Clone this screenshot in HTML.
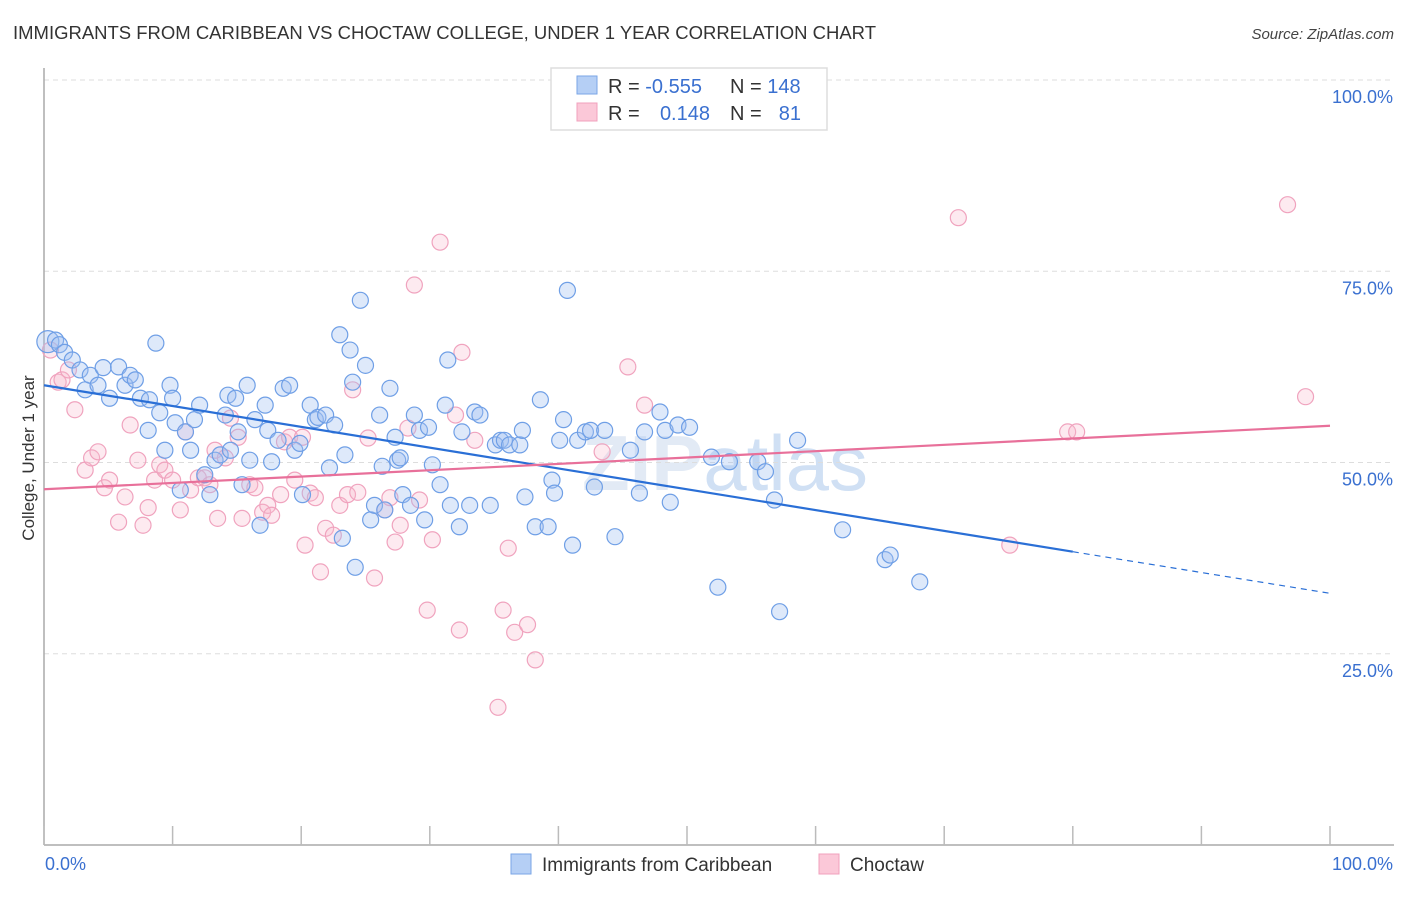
<!DOCTYPE html>
<html><head><meta charset="utf-8"><style>
body{margin:0;background:#fff;font-family:"Liberation Sans",sans-serif;}
svg text{font-family:"Liberation Sans",sans-serif;}
</style></head><body>
<svg id="chart" width="1406" height="892" xmlns="http://www.w3.org/2000/svg">
<text x="13" y="39" font-size="18" textLength="863" lengthAdjust="spacingAndGlyphs" fill="#333">IMMIGRANTS FROM CARIBBEAN VS CHOCTAW COLLEGE, UNDER 1 YEAR CORRELATION CHART</text>
<text x="1394" y="39" font-size="15" fill="#444" font-style="italic" text-anchor="end">Source: ZipAtlas.com</text>
<text x="725" y="490" font-size="78" fill="#e2eaf5" text-anchor="middle" font-weight="bold">ZIP<tspan font-weight="normal" fill="#d0e0f4">atlas</tspan></text>
<g id="grid"></g>
<g id="axes"></g>
<g id="pinkPts"></g>
<g id="bluePts"></g>
<g id="trends"></g>
<text transform="translate(34,458) rotate(-90)" font-size="17" fill="#333" text-anchor="middle">College, Under 1 year</text>
<g>
<rect x="551" y="68" width="276" height="62" fill="#fff" stroke="#ddd" stroke-width="1.5"/>
<rect x="577" y="76" width="20" height="18" fill="#b5cff5" stroke="#7aa6e6"/>
<rect x="577" y="103" width="20" height="18" fill="#fbc8d8" stroke="#f0a0bd"/>
<text x="608" y="93" font-size="20" fill="#333">R = <tspan fill="#3a70d0">-0.555</tspan></text>
<text x="730" y="93" font-size="20" fill="#333">N = <tspan fill="#3a70d0">148</tspan></text>
<text x="608" y="120" font-size="20" fill="#333">R = </text>
<text x="710" y="120" font-size="20" fill="#3a70d0" text-anchor="end">0.148</text>
<text x="730" y="120" font-size="20" fill="#333">N = </text>
<text x="801" y="120" font-size="20" fill="#3a70d0" text-anchor="end">81</text>
</g>
<g>
<rect x="511" y="854" width="20" height="20" fill="#b5cff5" stroke="#7aa6e6"/>
<text x="542" y="871" font-size="19" fill="#333">Immigrants from Caribbean</text>
<rect x="819" y="854" width="20" height="20" fill="#fbc8d8" stroke="#f0a0bd"/>
<text x="850" y="871" font-size="19" fill="#333">Choctaw</text>
</g>
</svg>
<script>
const yTicks=[25,50,75,100];
const yTickLabels=["25.0%","50.0%","75.0%","100.0%"];
const xTicks=[0,10,20,30,40,50,60,70,80,90,100];
const blueX=[0.3,0.9,1.2,1.6,2.2,2.8,3.2,3.6,4.2,4.6,5.1,5.8,6.3,6.7,7.1,7.5,8.1,8.2,8.7,9.0,9.4,9.8,10.0,10.2,10.6,11.0,11.4,11.7,12.1,12.5,12.9,13.3,13.7,14.1,14.3,14.5,14.9,15.1,15.4,15.8,16.0,16.4,16.8,17.2,17.4,17.7,18.2,18.6,19.1,19.5,19.9,20.1,20.7,21.1,21.3,21.9,22.2,22.6,23.0,23.2,23.4,23.8,24.0,24.2,24.6,25.0,25.4,25.7,26.1,26.3,26.5,26.9,27.3,27.5,27.7,27.9,28.5,28.8,29.2,29.6,29.9,30.2,30.8,31.2,31.4,31.6,32.3,32.5,33.1,33.5,33.9,34.7,35.1,35.5,35.8,36.2,37.0,37.2,37.4,38.2,38.6,39.2,39.5,39.7,40.1,40.4,40.7,41.1,41.5,42.1,42.5,42.8,43.6,44.4,45.6,46.3,46.7,47.9,48.3,48.7,49.3,50.2,51.9,52.4,53.3,55.5,56.1,56.8,57.2,58.6,62.1,65.4,65.8,68.1];
const blueY=[65.8,66.0,65.4,64.4,63.4,62.1,59.5,61.4,60.1,62.4,58.4,62.5,60.1,61.4,60.8,58.4,54.2,58.2,65.6,56.5,51.6,60.1,58.4,55.2,46.4,54.0,51.6,55.6,57.5,48.4,45.8,50.3,51.0,56.2,58.8,51.6,58.4,54.0,47.1,60.1,50.3,55.6,41.8,57.5,54.2,50.1,52.9,59.7,60.1,51.6,52.5,45.8,57.5,55.6,55.9,56.2,49.3,54.9,66.7,40.1,51.0,64.7,60.5,36.3,71.2,62.7,42.5,44.4,56.2,49.5,43.8,59.7,53.3,50.3,50.6,45.8,44.4,56.2,54.2,42.5,54.6,49.7,47.1,57.5,63.4,44.4,41.6,54.0,44.4,56.6,56.2,44.4,52.3,52.9,52.9,52.3,52.3,54.2,45.5,41.6,58.2,41.6,47.7,46.0,52.9,55.6,72.5,39.2,52.9,54.0,54.2,46.8,54.2,40.3,51.6,46.0,54.0,56.6,54.2,44.8,54.9,54.6,50.7,33.7,50.1,50.1,48.8,45.1,30.5,52.9,41.2,37.3,37.9,34.4];
const pinkX=[0.5,1.1,1.4,1.9,2.4,3.2,3.7,4.2,4.7,5.1,5.8,6.3,6.7,7.3,7.7,8.1,8.6,9.0,9.4,10.0,10.6,11.0,11.4,12.0,12.5,12.9,13.3,13.5,14.1,14.5,15.1,15.4,16.0,16.4,17.0,17.4,17.7,18.4,18.7,19.1,19.5,20.1,20.3,20.7,21.1,21.5,21.9,22.5,23.0,23.6,24.0,24.4,25.2,25.7,26.5,26.9,27.3,27.7,28.3,28.8,29.2,29.8,30.2,30.8,32.0,32.3,32.5,33.5,35.7,36.1,36.6,37.6,38.2,35.3,43.4,45.4,46.7,71.1,79.6,80.3,75.1,96.7,98.1];
const pinkY=[64.7,60.5,60.8,62.1,56.9,49.0,50.6,51.4,46.7,47.7,42.2,45.5,54.9,50.3,41.8,44.1,47.7,49.7,49.0,47.7,43.8,54.0,46.4,48.0,48.0,47.1,51.6,42.7,50.6,55.8,53.3,42.7,47.1,46.7,43.5,44.4,43.1,45.8,52.7,53.3,47.7,53.3,39.2,46.0,45.4,35.7,41.4,40.5,44.4,45.8,59.5,46.1,53.2,34.9,43.8,45.4,39.6,41.8,54.5,73.2,45.1,30.7,39.9,78.8,56.2,28.1,64.4,52.9,30.7,38.8,27.8,28.8,24.2,18.0,51.4,62.5,57.5,82.0,54.0,54.0,39.2,83.7,58.6];
const blueTrend=[60.1,-0.272]; // intercept, slope
const pinkTrend=[46.5,0.083];
const blueSolidEnd=80;

const NS="http://www.w3.org/2000/svg";
const X0=44,X1=1330,Y0=845,Y1=80;
const xs=v=>X0+(X1-X0)*v/100;
const ys=v=>Y0-(Y0-Y1)*v/100;
function mk(tag,attrs,parent){const e=document.createElementNS(NS,tag);for(const k in attrs)e.setAttribute(k,attrs[k]);parent.appendChild(e);return e;}
const grid=document.getElementById('grid'),axes=document.getElementById('axes');
yTicks.forEach((t,i)=>{
  const l=mk('line',{x1:X0,x2:1394,y1:ys(t),y2:ys(t),stroke:'#ddd','stroke-dasharray':'5,4'},grid);
  
  
  const tx=mk('text',{x:1393,y:ys(t)+23,'font-size':18,fill:'#3a70d0','text-anchor':'end'},axes);
  tx.textContent=yTickLabels[i];
  
  
});
mk('line',{x1:X0,x2:X0,y1:68,y2:Y0,stroke:'#aaa','stroke-width':1.5},axes);
mk('line',{x1:X0,x2:1394,y1:Y0,y2:Y0,stroke:'#aaa','stroke-width':1.5},axes);
xTicks.forEach(t=>{
  const l=mk('line',{x1:xs(t),x2:xs(t),y1:826,y2:Y0,stroke:'#bbb','stroke-width':1.5},axes);
  
  
});
const xl0=mk('text',{x:45,y:870,'font-size':18,fill:'#3a70d0'},axes);xl0.textContent='0.0%';


const xl1=mk('text',{x:1393,y:870,'font-size':18,fill:'#3a70d0','text-anchor':'end'},axes);xl1.textContent='100.0%';



const pg=document.getElementById('pinkPts');
pinkX.forEach((x,i)=>{
  const c=mk('circle',{cx:xs(x),cy:ys(pinkY[i]),r:8,fill:'rgba(248,185,205,0.3)',stroke:'#f0a3be','stroke-width':1.2},pg);
  
  
});
const bg=document.getElementById('bluePts');
blueX.forEach((x,i)=>{
  const c=mk('circle',{cx:xs(x),cy:ys(blueY[i]),r:i===0?11:8,fill:'rgba(160,192,240,0.35)',stroke:'#6f9fe6','stroke-width':1.2},bg);
  
  
});
const tg=document.getElementById('trends');
const bl=mk('line',{x1:xs(0),y1:ys(blueTrend[0]),x2:xs(blueSolidEnd),y2:ys(blueTrend[0]+blueTrend[1]*blueSolidEnd),stroke:'#2a6fd6','stroke-width':2.2},tg);


const bd=mk('line',{x1:xs(blueSolidEnd),y1:ys(blueTrend[0]+blueTrend[1]*blueSolidEnd),x2:xs(100),y2:ys(blueTrend[0]+blueTrend[1]*100),stroke:'#2a6fd6','stroke-width':1.2,'stroke-dasharray':'6,5'},tg);


const pl=mk('line',{x1:xs(0),y1:ys(pinkTrend[0]),x2:xs(100),y2:ys(pinkTrend[0]+pinkTrend[1]*100),stroke:'#e8709a','stroke-width':2.2},tg);


</script>
</body></html>
